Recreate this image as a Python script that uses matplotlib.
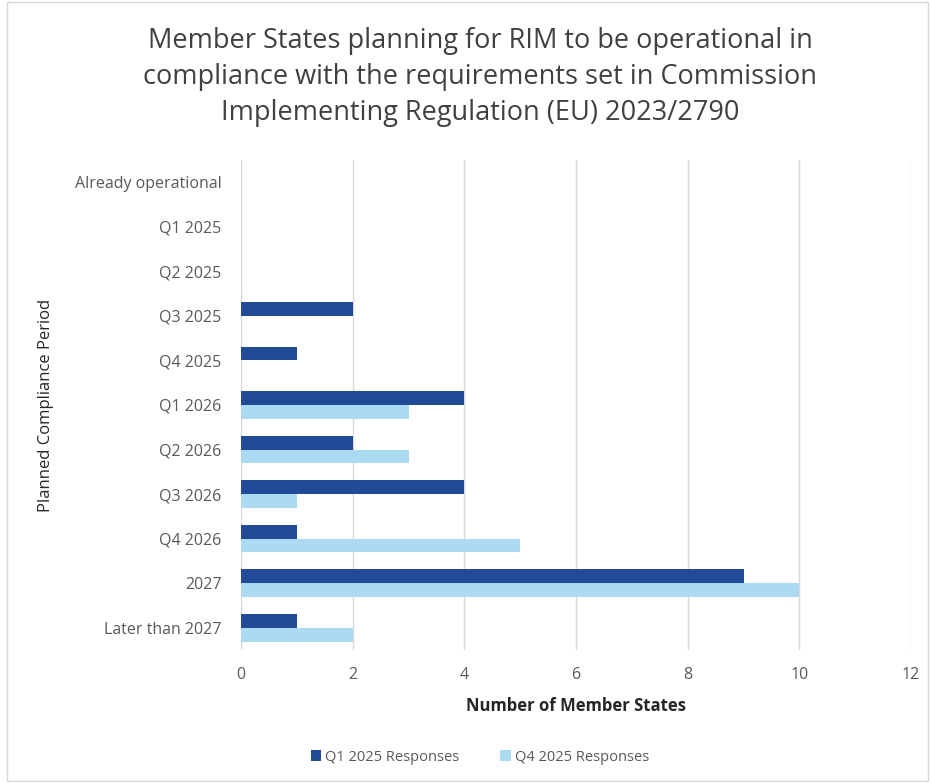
import matplotlib.pyplot as plt
import numpy as np
from matplotlib.patches import Rectangle

# data
periods = ['Already operational', 'Q1 2025', 'Q2 2025', 'Q3 2025', 'Q4 2025',
           'Q1 2026', 'Q2 2026', 'Q3 2026', 'Q4 2026', '2027', 'Later than 2027']
q1_2025 = [0, 0, 0, 2, 1, 4, 2, 4, 1, 9, 1]
q4_2025 = [0, 0, 0, 0, 0, 3, 3, 1, 5, 10, 2]
series_names = ['Q1 2025 Responses', 'Q4 2025 Responses']

dark = '#214A97'
light = '#ADDAF3'
grey_txt = '#595959'

plt.rcParams['font.family'] = ['Open Sans', 'DejaVu Sans']

fig = plt.figure(figsize=(9.32, 7.83), dpi=100)
ax = fig.add_axes([0.2586, 0.1699, 0.7189, 0.6258])

# chart border
fig.patches.append(Rectangle((0.008, 0.003), 0.988, 0.994, transform=fig.transFigure,
                             fill=False, edgecolor='#D9D9D9', linewidth=1))

y = np.arange(len(periods))
h = 0.31
ax.barh(y - h / 2, q1_2025, height=h, color=dark, label=series_names[0], zorder=3)
ax.barh(y + h / 2, q4_2025, height=h, color=light, label=series_names[1], zorder=3)

ax.set_xlim(0, 12)
ax.set_ylim(len(periods) - 0.5, -0.5)
ax.set_xticks(np.arange(0, 13, 2))
ax.set_yticks(y)
ax.set_yticklabels(periods)
ax.tick_params(axis='both', length=0, labelsize=11.5, labelcolor=grey_txt)
ax.tick_params(axis='x', pad=12)
ax.tick_params(axis='y', pad=14)
ax.grid(axis='x', color='#D9D9D9', linewidth=1, zorder=0)
ax.grid(axis='y', visible=False)
for s in ax.spines.values():
    s.set_visible(False)

ax.set_xlabel('Number of Member States', fontsize=12, fontweight='bold', color='#262626', labelpad=10)
ax.set_ylabel('Planned Compliance Period', fontsize=12, color='#262626', labelpad=15)

fig.text(0.515, 0.965, 'Member States planning for RIM to be operational in\n'
         'compliance with the requirements set in Commission\n'
         'Implementing Regulation (EU) 2023/2790',
         ha='center', va='top', fontsize=19.5, color='#404040', linespacing=1.36)

fig.legend(loc='center', bbox_to_anchor=(0.515, 0.033), ncol=2, frameon=False,
           fontsize=10.5, labelcolor=grey_txt, handlelength=0.7, handleheight=0.7,
           handletextpad=0.3, columnspacing=2.8)

fig.savefig('out.png', dpi=100)
